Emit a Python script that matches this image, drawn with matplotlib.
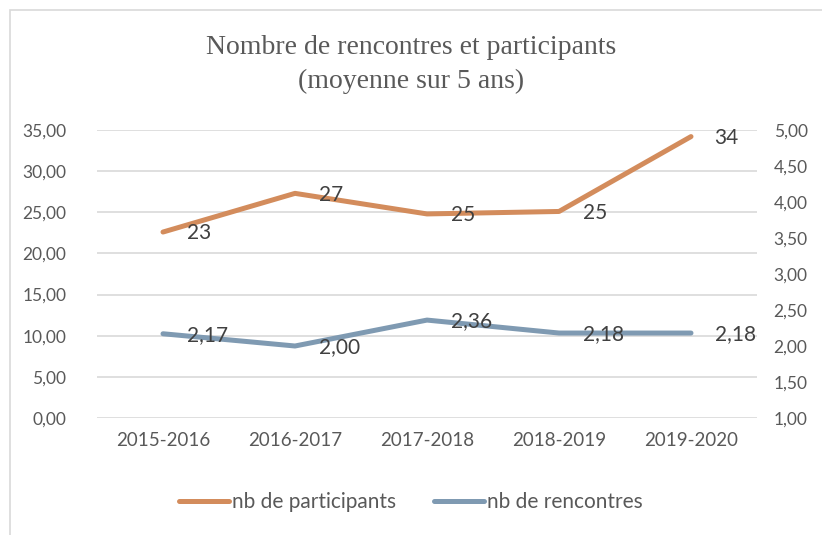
import matplotlib.pyplot as plt
from matplotlib.patches import Rectangle
from matplotlib.ticker import FuncFormatter

# data
saisons = ["2015-2016", "2016-2017", "2017-2018", "2018-2019", "2019-2020"]
participants = [22.6, 27.3, 24.8, 25.1, 34.2]
rencontres = [2.17, 2.00, 2.36, 2.18, 2.18]

orange = "#D38C5C"
bleu = "#7F9AB2"
gris = "#595959"
sans = ["Lato", "DejaVu Sans"]
serif = ["Liberation Serif", "DejaVu Serif"]

fig = plt.figure(figsize=(8.22, 5.35), dpi=100)
ax = fig.add_axes([97/822, 1-418/535, 660/822, 288/535])
ax2 = ax.twinx()

# outer frame, like the chart area border
fig.patches.append(Rectangle((10/822, -0.1), 1.2, 1 - 10/535 + 0.1, transform=fig.transFigure,
                             fill=False, edgecolor="#D9D9D9", linewidth=1.2, clip_on=False))

x = list(range(len(saisons)))
l1, = ax.plot(x, participants, color=orange, linewidth=3.6, solid_capstyle="round",
              label="nb de participants", zorder=3)
l2, = ax2.plot(x, rencontres, color=bleu, linewidth=3.6, solid_capstyle="round",
               label="nb de rencontres", zorder=3)

ax.set_xlim(-0.5, 4.5)
ax.set_ylim(0, 35)
ax.set_yticks(range(0, 36, 5))
ax2.set_ylim(1, 5)
ax2.set_yticks([1 + 0.5*i for i in range(9)])

comma = FuncFormatter(lambda v, p: f"{v:.2f}".replace(".", ","))
ax.yaxis.set_major_formatter(comma)
ax2.yaxis.set_major_formatter(comma)

ax.set_xticks(x)
ax.set_xticklabels(saisons)
ax.grid(axis="y", color="#D9D9D9", linewidth=1.2)
ax.set_axisbelow(True)

for a in (ax, ax2):
    for s in a.spines.values():
        s.set_visible(False)
    a.tick_params(length=0, labelsize=12.5, labelcolor=gris)
    for lab in a.get_xticklabels() + a.get_yticklabels():
        lab.set_family(sans)
ax.tick_params(axis="x", labelsize=13.5, pad=10)
ax.tick_params(axis="y", pad=22)
ax2.tick_params(axis="y", pad=12)

# value labels
for xi, v in zip(x, participants):
    ax.annotate(f"{round(v)}", (xi, v), xytext=(17, -1), textcoords="offset points",
                ha="left", va="center", fontsize=15, color="#404040", family=sans, zorder=4)
for xi, v in zip(x, rencontres):
    ax2.annotate(f"{v:.2f}".replace(".", ","), (xi, v), xytext=(17, -1), textcoords="offset points",
                 ha="left", va="center", fontsize=15, color="#404040", family=sans, zorder=4)

fig.text(0.5, 1-48/535, "Nombre de rencontres et participants", ha="center", va="center",
         fontsize=20, color=gris, family=serif)
fig.text(0.5, 1-81/535, "(moyenne sur 5 ans)", ha="center", va="center",
         fontsize=20, color=gris, family=serif)

leg = fig.legend(handles=[l1, l2], loc="center", bbox_to_anchor=(0.5, 1-502/535), ncol=2,
                 frameon=False, handlelength=2.4, handletextpad=0.15, columnspacing=1.8,
                 prop={"family": sans, "size": 15})
for t in leg.get_texts():
    t.set_color(gris)

fig.savefig("out.png", dpi=100)
